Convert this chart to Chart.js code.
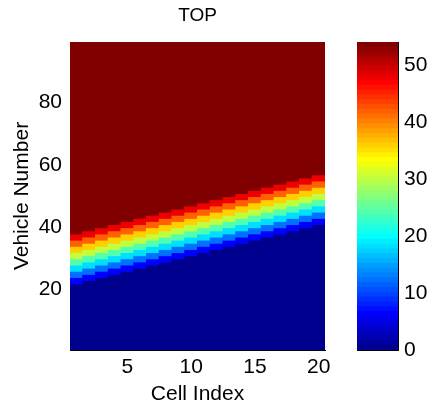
<!DOCTYPE html>
<html>
<head>
<meta charset="utf-8">
<script src="https://cdn.jsdelivr.net/npm/chart.js@4"></script>
<style>
  body { margin: 0; background: #fff; }
  #wrap { position: relative; width: 429px; height: 405px; }
  canvas { position: absolute; top: 0; }
</style>
</head>
<body>
<div id="wrap">
  <canvas id="heat" width="395" height="405" style="left:0"></canvas>
  <canvas id="cbar" width="89" height="405" style="left:340px"></canvas>
</div>
<script>
// Datos
const cells = [1, 2, 3, 4, 5, 6, 7, 8, 9, 10, 11, 12, 13, 14, 15, 16, 17, 18, 19, 20];
const vehicleCount = 99;
// first vehicle (per cell) that is no longer 0
const bandStart = [22, 23, 24, 25, 26, 27, 28, 29, 30, 31, 32, 33, 34, 35, 36, 37, 38, 39, 40, 41];
// values inside the band, each one held for 2 vehicles
const bandLevels = [6, 12, 18, 24, 30, 36, 42, 48];
const lowValue = 0;
const highValue = 54;
const xTicks = [5, 10, 15, 20];
const yTicks = [20, 40, 60, 80];
const cbTicks = [0, 10, 20, 30, 40, 50];
const cMin = 0, cMax = 54;

const FONT = "'Liberation Sans', Arial, Helvetica, sans-serif";

// jet(64) like matlab
function jet(i) {
  const t = (i + 1) / 64;
  const c = v => Math.round(255 * Math.max(0, Math.min(1, v)));
  return "rgb(" + c(1.5 - Math.abs(4 * t - 3)) + "," + c(1.5 - Math.abs(4 * t - 2)) + "," + c(1.5 - Math.abs(4 * t - 1)) + ")";
}
function colorFor(v) {
  const i = Math.max(0, Math.min(63, Math.floor((v - cMin) / (cMax - cMin) * 64)));
  return jet(i);
}

// segments of each column: [from, to] in vehicle units
const segments = [];
segments.push({ value: lowValue, data: bandStart.map(s => [0.5, s - 0.5]) });
bandLevels.forEach((lv, k) => {
  segments.push({ value: lv, data: bandStart.map(s => [s + 2 * k - 0.5, s + 2 * k + 1.5]) });
});
segments.push({ value: highValue, data: bandStart.map(s => [s + 2 * bandLevels.length - 0.5, vehicleCount + 0.5]) });

new Chart(document.getElementById("heat"), {
  type: "bar",
  data: {
    labels: cells.map(String),
    datasets: segments.map(sg => ({
      data: sg.data,
      backgroundColor: colorFor(sg.value),
      borderWidth: 0,
      grouped: false,
      barPercentage: 1,
      categoryPercentage: 1,
      inflateAmount: 0.5
    }))
  },
  options: {
    responsive: false,
    animation: false,
    events: [],
    layout: { padding: { left: 0, right: 70, top: 0, bottom: 0 } },
    plugins: {
      legend: { display: false },
      tooltip: { enabled: false },
      title: {
        display: true,
        fullSize: false,
        text: "TOP",
        color: "#000",
        font: { family: FONT, size: 19, weight: "normal", lineHeight: 1 },
        padding: { top: 6, bottom: 17 }
      }
    },
    scales: {
      x: {
        stacked: true,
        grid: { display: false, drawTicks: false },
        border: { display: true, color: "#000", width: 1 },
        ticks: {
          autoSkip: false, maxRotation: 0, padding: 5, color: "#000",
          font: { family: FONT, size: 21 },
          callback: (v, i) => xTicks.includes(cells[i]) ? String(cells[i]) : ""
        },
        title: {
          display: true, text: "Cell Index", color: "#000",
          font: { family: FONT, size: 21, lineHeight: 1 },
          padding: { top: 0, bottom: 0 }
        },
        afterFit: s => { s.height = 55; }
      },
      y: {
        min: 0.5, max: vehicleCount + 0.5,
        grid: { display: false, drawTicks: false },
        border: { display: true, color: "#000", width: 1 },
        afterBuildTicks: s => { s.ticks = yTicks.map(v => ({ value: v })); },
        ticks: { padding: 8, color: "#000", font: { family: FONT, size: 21 } },
        title: {
          display: true, text: "Vehicle Number", color: "#000",
          font: { family: FONT, size: 21, lineHeight: 1 },
          padding: { top: 12, bottom: 0 }
        },
        afterFit: s => { s.width = 70; }
      }
    }
  }
});

// colorbar
const cbSteps = [];
for (let i = 0; i < 64; i++) cbSteps.push(i);
const cbStep = (cMax - cMin) / 64;

new Chart(document.getElementById("cbar"), {
  type: "bar",
  data: {
    labels: [""],
    datasets: cbSteps.map(i => ({
      data: [[cMin + i * cbStep, cMin + (i + 1) * cbStep]],
      backgroundColor: jet(i),
      borderWidth: 0,
      grouped: false,
      barPercentage: 1,
      categoryPercentage: 1,
      inflateAmount: 0.5
    }))
  },
  options: {
    responsive: false,
    animation: false,
    events: [],
    layout: { padding: { left: 17, right: 0, top: 42, bottom: 55 } },
    plugins: { legend: { display: false }, tooltip: { enabled: false } },
    scales: {
      x: {
        stacked: true,
        grid: { display: false, drawTicks: false },
        ticks: { display: false },
        border: { display: true, color: "#000", width: 1 },
        afterFit: s => { s.height = 0; }
      },
      x2: {
        position: "top",
        grid: { display: false, drawTicks: false },
        ticks: { display: false },
        border: { display: true, color: "#000", width: 1 },
        afterFit: s => { s.height = 0; }
      },
      yl: {
        position: "left",
        min: cMin, max: cMax,
        grid: { display: false, drawTicks: false },
        ticks: { display: false },
        border: { display: true, color: "#000", width: 1 },
        afterFit: s => { s.width = 0; }
      },
      y: {
        position: "right",
        min: cMin, max: cMax,
        grid: { display: false, drawTicks: false },
        border: { display: true, color: "#000", width: 1 },
        afterBuildTicks: s => { s.ticks = cbTicks.map(v => ({ value: v })); },
        ticks: { padding: 6, color: "#000", font: { family: FONT, size: 21 } },
        afterFit: s => { s.width = 31; }
      }
    }
  }
});
</script>
</body>
</html>
